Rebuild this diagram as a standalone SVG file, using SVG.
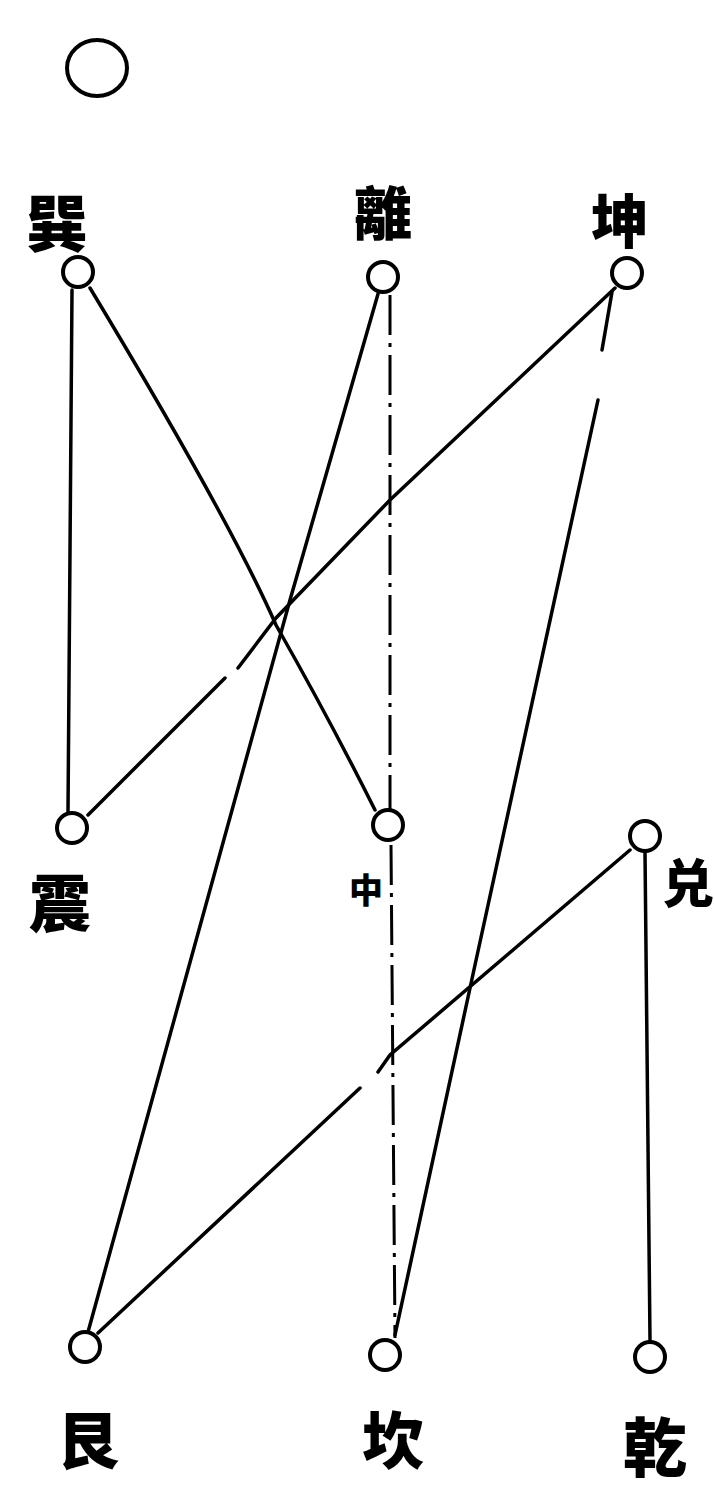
<svg xmlns="http://www.w3.org/2000/svg" width="714" height="1499" viewBox="0 0 714 1499">
<style>
.n{fill:none;stroke:#000;stroke-width:4}
.t{font-family:"Noto Sans CJK TC","Noto Sans CJK SC",sans-serif;font-weight:900;fill:#000;text-anchor:middle;dominant-baseline:central}
.c{fill:none;stroke:#000;stroke-width:3.5;stroke-linecap:round}
.d{fill:none;stroke:#000;stroke-width:3;stroke-dasharray:40 8 4 8}
</style>
<rect width="714" height="1499" fill="#fff"/>
<g id="connectors">
<path class="c" d="M72,290 L68,812"/>
<path class="c" d="M90,288 Q230,520 276,625 Q330,720 375,810"/>
<path class="c" d="M378,294 L290,600 L88,1332"/>
<path class="d" d="M390,295 L390,810"/>
<path class="c" d="M615,288 L390,500 L276,618 L238,668"/>
<path class="c" d="M225,678 L88,815"/>
<path class="c" d="M612,292 L602,350"/>
<path class="c" d="M598,400 L475,965 L395,1335"/>
<path class="c" d="M630,850 L390,1055 L378,1072"/>
<path class="c" d="M360,1088 L98,1333"/>
<path class="c" d="M645,852 L650,1340"/>
<path class="d" d="M391,845 L395,1338"/>
</g>
<g id="top"><ellipse class="n" cx="97" cy="68" rx="30" ry="28"/></g>
<g id="xun"><circle class="n" cx="78" cy="272" r="15"/><text class="t" x="57" y="220" font-size="62">巽</text></g>
<g id="li"><circle class="n" cx="383" cy="277" r="15"/><text class="t" x="383" y="210" font-size="58">離</text></g>
<g id="kun"><circle class="n" cx="627" cy="273" r="15"/><text class="t" x="620" y="218" font-size="58">坤</text></g>
<g id="zhen"><circle class="n" cx="72" cy="828" r="15"/><text class="t" x="60" y="900" font-size="62">震</text></g>
<g id="zhong"><circle class="n" cx="388" cy="825" r="15"/><text class="t" x="366" y="888" font-size="34">中</text></g>
<g id="dui"><circle class="n" cx="645" cy="836" r="15"/><text class="t" x="688" y="880" font-size="52">兑</text></g>
<g id="gen"><circle class="n" cx="85" cy="1347" r="15"/><text class="t" x="88" y="1437" font-size="62">艮</text></g>
<g id="kan"><circle class="n" cx="385" cy="1355" r="15"/><text class="t" x="393" y="1437" font-size="62">坎</text></g>
<g id="qian"><circle class="n" cx="650" cy="1357" r="15"/><text class="t" x="655" y="1443" font-size="64">乾</text></g>
</svg>
